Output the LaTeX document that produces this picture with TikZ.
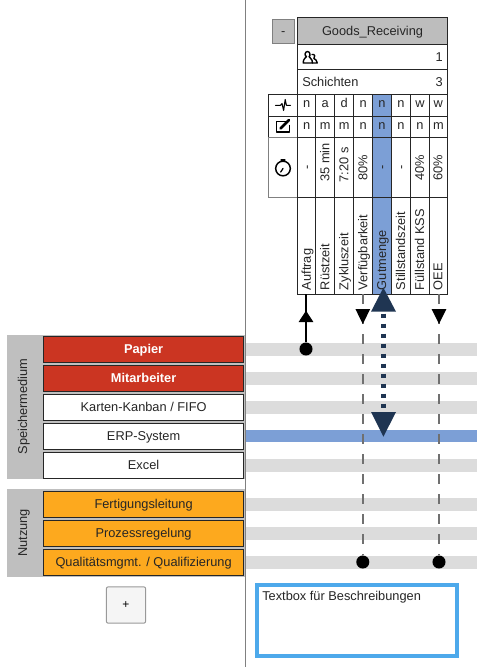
\documentclass[tikz,border=0pt]{standalone}
\usepackage{fontspec}
\setmainfont{Liberation Sans}
\definecolor{lanegray}{HTML}{DCDCDC}
\definecolor{groupgray}{HTML}{BFBFBF}
\definecolor{headgray}{HTML}{BDBDBD}
\definecolor{laneblue}{HTML}{7C9FD6}
\definecolor{navy}{HTML}{1F3552}
\definecolor{redbox}{HTML}{CB3522}
\definecolor{orangebox}{HTML}{FDA91E}
\definecolor{ink}{HTML}{262626}
\definecolor{dashgray}{HTML}{707070}
\definecolor{textblue}{HTML}{4DA9EB}
\tikzset{
  cellbox/.style={draw=ink,line width=.75pt,inner sep=0pt,outer sep=0pt,text=ink,text height=7pt,text depth=.7pt,font=\fontsize{9.6}{10}\selectfont},
  rowtext/.style={inner sep=0pt,text=ink,font=\fontsize{9.6}{10}\selectfont},
  vtext/.style={rowtext,rotate=90,text height=7pt,text depth=.9pt},
  lane/.style={fill=lanegray,draw=none,inner sep=0pt,outer sep=0pt},
  sbox/.style={draw=ink,line width=1pt,inner sep=0pt,outer sep=0pt,text=ink,text height=7pt,text depth=.7pt,font=\fontsize{9.6}{10}\selectfont},
  dashline/.style={draw=dashgray,line width=1.4pt,dash pattern=on 7.5pt off 7.5pt},
  dot/.style={circle,fill=black,inner sep=0pt,minimum size=9.8pt,outer sep=0pt},
  iconline/.style={draw=black,line width=.95pt,line join=round,line cap=round},
}
\newcommand{\bx}[7]{% name x1 y1 x2 y2 style text
  \pgfmathsetmacro{\cx}{((#2)+(#4))/2}\pgfmathsetmacro{\cy}{((#3)+(#5))/2}
  \pgfmathsetmacro{\ww}{((#4)-(#2))*.75}\pgfmathsetmacro{\hh}{((#5)-(#3))*.75}
  \node[#6,minimum width=\ww pt,minimum height=\hh pt] (#1) at (\cx,\cy) {#7};}
\begin{document}
\begin{tikzpicture}[x=.75pt,y=-.75pt]
\useasboundingbox (0,0) rectangle (477,667);
% lanes
\foreach \n/\y in {l1/349,l2/378,l3/407,l5/465,l6/504,l7/533,l8/562}
  \bx{\n}{245}{\y-6.5}{477}{\y+6.5}{lane}{};
\bx{l4}{245}{429.8}{477}{442.4}{lane,fill=laneblue}{};
% divider
\coordinate (divtop) at (245.5,0);
\coordinate (divbot) at (245.5,667);
\draw[draw=gray,line width=.8pt] (divtop) -- (divbot);
% left groups
\bx{speicher}{7}{334.7}{245}{479.3}{fill=groupgray,inner sep=0pt}{};
\bx{nutzung}{7}{489.3}{245}{576.7}{fill=groupgray,inner sep=0pt}{};
\node[vtext] (speichert) at (23,406.5) {Speichermedium};
\node[vtext] (nutzungt) at (23,533) {Nutzung};
\bx{papier}{43.5}{336.3}{243.7}{362.2}{sbox,fill=redbox,text=white,font=\fontsize{9.6}{10}\selectfont\bfseries}{Papier};
\bx{mitarb}{43.5}{365.3}{243.7}{391.2}{sbox,fill=redbox,text=white,font=\fontsize{9.6}{10}\selectfont\bfseries}{Mitarbeiter};
\bx{karten}{43.5}{394.3}{243.7}{420.2}{sbox,fill=white}{Karten-Kanban / FIFO};
\bx{erp}{43.5}{423.3}{243.7}{449.2}{sbox,fill=white}{ERP-System};
\bx{excel}{43.5}{452.3}{243.7}{478.2}{sbox,fill=white}{Excel};
\bx{fert}{43.5}{491.3}{243.7}{517.2}{sbox,fill=orangebox}{Fertigungsleitung};
\bx{proz}{43.5}{520.3}{243.7}{546.2}{sbox,fill=orangebox}{Prozessregelung};
\bx{qual}{43.5}{549.3}{243.7}{575.2}{sbox,fill=orangebox}{Qualitätsmgmt. / Qualifizierung};
% plus button
\node[draw=gray!80,fill=black!4,rounded corners=1.5pt,line width=.75pt,minimum width=29.5pt,minimum height=27.3pt,inner sep=0pt,text=black,font=\fontsize{9}{10}\selectfont] (plus) at (126,605) {+};
% text box
\bx{tbox}{257}{585}{457}{656}{draw=textblue,line width=3pt,fill=white,inner sep=0pt}{};
\node[rowtext,anchor=base west] (tboxt) at (262,600) {Textbox für Beschreibungen};
% minus button
\bx{minus}{272}{19.5}{294.3}{43.3}{draw=gray,fill=headgray,line width=.75pt,inner sep=0pt,text height=7pt,text depth=.7pt,font=\fontsize{9.6}{10}\selectfont,text=ink}{-};
% table
\bx{head}{297.7}{18}{447.4}{45}{cellbox,fill=headgray}{Goods\_Receiving};
\bx{people}{297.7}{45}{447.4}{70}{cellbox,fill=white}{};
\bx{shifts}{297.7}{70}{447.4}{94}{cellbox,fill=white}{};
\node[rowtext,anchor=base west] (shiftst) at (302,86) {Schichten};
\node[rowtext,anchor=base east] (shiftsn) at (443,86) {3};
\node[rowtext,anchor=base east] (peoplen) at (443,61.5) {1};
% icon cells
\bx{ic1}{268.4}{94}{297.7}{116}{cellbox,fill=white}{};
\bx{ic2}{268.4}{116}{297.7}{137}{cellbox,fill=white}{};
\bx{ic3}{268.4}{137}{297.7}{197}{cellbox,fill=white,draw=gray}{};
% column highlight and cells
\foreach \i/\xl/\xr/\ta/\tb/\nm/\fl in {
 1/297.7/315.7/n/n/Auftrag/white,
 2/315.7/334.7/a/m/Rüstzeit/white,
 3/334.7/353.7/d/m/Zykluszeit/white,
 4/353.7/372.7/n/n/Verfügbarkeit/white,
 5/372.7/391.4/n/n/Gutmenge/laneblue,
 6/391.4/410.7/n/n/Stillstandszeit/white,
 7/410.7/429.3/w/n/Füllstand KSS/white,
 8/429.3/447.4/w/m/OEE/white}{
  \bx{ca\i}{\xl}{94}{\xr}{116}{cellbox,fill=\fl,text depth=2.6pt}{\ta};
  \bx{cb\i}{\xl}{116}{\xr}{137}{cellbox,fill=\fl,text depth=2.2pt}{\tb};
  \bx{cc\i}{\xl}{137}{\xr}{197}{cellbox,fill=\fl}{};
  \bx{cd\i}{\xl}{197}{\xr}{294.3}{cellbox,fill=\fl}{};
  \node[vtext,anchor=west,xshift=3pt] (cn\i) at (cd\i.south) {\nm};
}
\foreach \i/\t/\y in {1/-/167,2/35 min/162.5,3/7:20 s/165,4/80\%/168,5/-/167,6/-/167,7/40\%/168,8/60\%/168}
  \node[vtext] (ct\i) at (cc\i.center |- 0,\y) {\t};
% icons
\begin{scope}[shift={(283,105)}]
\draw[iconline,line width=.8pt] (-7.5,0.3) -- (-2.5,0.3) -- (-1,-1.5) -- (0.6,5.5) -- (2.2,-5.5) -- (3.4,0.3) -- (7.5,0.3);
\end{scope}
\begin{scope}[shift={(283,126.5)}]
\draw[iconline,line width=1.1pt] (3,-5) -- (-6.5,-5) -- (-6.5,5.5) -- (6.5,5.5) -- (6.5,-1);
\draw[iconline,line width=2pt] (-2.5,2) -- (6,-6.5);
\end{scope}
\begin{scope}[shift={(283,168.5)}]
\draw[iconline,line width=1.1pt] (0,0) circle[radius=5.5pt];
\draw[iconline] (0,-7) -- (0,-8.6);
\draw[iconline] (-2,-8.6) -- (2,-8.6);
\draw[iconline] (0,0) -- (-2.3,3.5);
\end{scope}
\begin{scope}[shift={(310.5,57.5)}]
\draw[iconline,line width=1.05pt] (-3,-6) .. controls (-6,-6) and (-6,-1) .. (-4,-1) .. controls (-5,1) and (-7.3,1) .. (-7.3,5.5) -- (2,5.5) .. controls (2,1) and (-1,1) .. (-1.5,-1) .. controls (0,-1) and (0,-6) .. (-3,-6);
\draw[iconline,line width=1.05pt] (1.5,-3) .. controls (4.5,-4) and (5,0) .. (3.4,1) .. controls (4.5,2) and (6.8,2.5) .. (6.8,5.5) -- (2,5.5);
\end{scope}
% connectors
\node[dot] (d1) at (306,349) {};
\coordinate (t1) at (cd1.south -| d1);
\draw[black,line width=1.5pt] (t1) -- (d1);
\fill[black] (306,310.7) -- (313.4,322) -- (298.6,322) -- cycle;
\node[dot] (d4) at (362.8,562) {};
\node[dot] (d8) at (439,562) {};
\coordinate (t4) at (cd4.south -| d4);
\coordinate (t8) at (cd8.south -| d8);
\draw[dashline] (t4) -- (d4);
\draw[dashline] (t8) -- (d8);
\fill[black] (355.4,309) -- (370.2,309) -- (362.8,324) -- cycle;
\fill[black] (431.6,309) -- (446.4,309) -- (439,324) -- cycle;
\coordinate (upend) at (383.4,311);
\coordinate (downend) at (383.4,412);
\draw[navy,line width=3.6pt,dash pattern=on 3.4pt off 4.1pt,dash phase=-1.9pt] (upend) -- (downend);
\fill[navy] (383.4,287.7) -- (396,311.7) -- (371,311.7) -- cycle;
\fill[navy] (371,412) -- (396,412) -- (383.4,436.7) -- cycle;
\end{tikzpicture}
\end{document}
